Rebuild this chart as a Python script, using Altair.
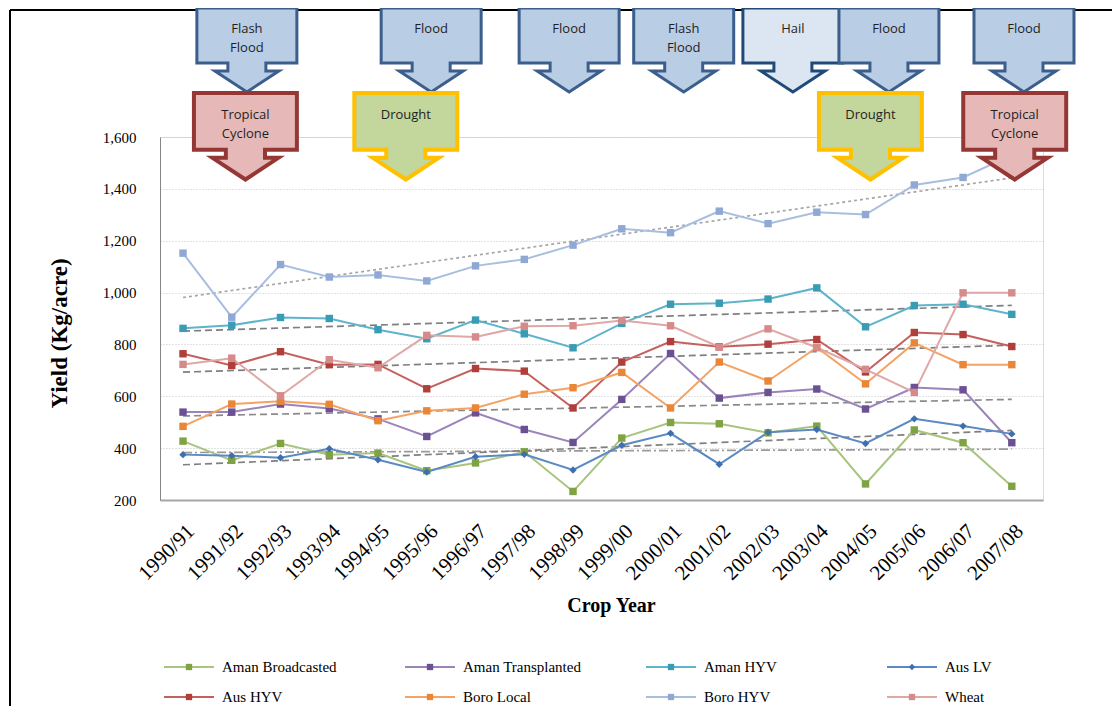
import json
import altair as alt
import pandas as pd

# ---------------- data ----------------
years = ["1990/91", "1991/92", "1992/93", "1993/94", "1994/95", "1995/96",
         "1996/97", "1997/98", "1998/99", "1999/00", "2000/01", "2001/02",
         "2002/03", "2003/04", "2004/05", "2005/06", "2006/07", "2007/08"]

series_names = ["Aman Broadcasted", "Aman Transplanted", "Aman HYV", "Aus LV",
                "Aus HYV", "Boro Local", "Boro HYV", "Wheat"]

aman_broadcasted = [427, 353, 418, 375, 381, 313, 343, 386, 233, 439, 499, 494, 459, 485, 262, 470, 421, 253]
aman_transplanted = [539, 539, 570, 553, 513, 445, 536, 472, 422, 588, 765, 593, 615, 628, 551, 634, 625, 421]
aman_hyv = [862, 874, 904, 900, 857, 822, 894, 841, 787, 881, 955, 959, 975, 1018, 868, 950, 955, 916]
aus_lv = [375, 371, 363, 398, 355, 308, 367, 376, 316, 411, 457, 338, 461, 472, 418, 513, 485, 455]
aus_hyv = [764, 719, 772, 722, 723, 629, 707, 697, 555, 732, 811, 791, 801, 819, 694, 846, 838, 792]
boro_local = [484, 570, 581, 569, 506, 544, 555, 608, 633, 692, 555, 732, 659, 788, 648, 806, 722, 722]
boro_hyv = [1152, 905, 1108, 1060, 1068, 1045, 1103, 1128, 1183, 1246, 1231, 1314, 1266, 1310, 1301, 1415, 1444, 1530]
wheat = [723, 747, 602, 741, 710, 835, 829, 870, 872, 892, 872, 790, 860, 788, 704, 615, 999, 999]

trend_series = ["Boro HYV", "Aman HYV", "Aus HYV", "Aman Transplanted", "Aus LV", "Aman Broadcasted"]

# event callouts: label, kind, position on the crop-year axis, row
event_labels = ["Flash\nFlood", "Flood", "Flood", "Flash\nFlood", "Hail", "Flood", "Flood",
                "Tropical\nCyclone", "Drought", "Drought", "Tropical\nCyclone"]
event_kinds = ["flood", "flood", "flood", "flood", "hail", "flood", "flood",
               "cyclone", "drought", "drought", "cyclone"]
event_pos = [1.31, 5.09, 7.92, 10.27, 12.51, 14.48, 17.25, 1.28, 4.57, 14.10, 17.06]
event_row = [0, 0, 0, 0, 0, 0, 0, 1, 1, 1, 1]

# ---------------- styles ----------------
line_colors = ["#A9C47F", "#9A84BA", "#5DB4CB", "#5B89C4", "#C4605D", "#F4A364", "#A8BEE0", "#DFA7A5"]
marker_colors = ["#7FA343", "#6C5094", "#3A9BB5", "#3F70AE", "#B03F3C", "#EA8638", "#8FA8D4", "#D68A89"]
marker_shapes = ["square", "square", "square", "diamond", "square", "square", "square", "square"]
trend_colors = ["#A6A6A6", "#7F7F7F", "#7F7F7F", "#8A8A8A", "#808080", "#9A9A9A"]
trend_dash = [[3, 3], [7, 4], [7, 4], [7, 4], [7, 4], [9, 3, 2, 3]]

kind_style = {
    "flood": ("#B9CDE5", "#3B5E8C", 3),
    "hail": ("#DCE6F2", "#1F4A7A", 3),
    "cyclone": ("#E6B9B8", "#953735", 4),
    "drought": ("#C3D69B", "#FFC000", 4),
}
callout_path = "M-1,0H1V1.1H0.38V1.26H0.64L0,1.68L-0.64,1.26H-0.38V1.1H-1Z"
row_top = [-129, -44]

# plot geometry (view size in px and scale domains)
VIEW_W, VIEW_H = 883, 363
X_DOM = [-0.472, 17.64]
Y_DOM = [200, 1600]


def px_to_i(px):  # page x -> crop-year index units
    return X_DOM[0] + (px - 160) / VIEW_W * (X_DOM[1] - X_DOM[0])


def py_to_v(py):  # page y -> yield units
    return Y_DOM[1] - (py - 137) / VIEW_H * (Y_DOM[1] - Y_DOM[0])


# ---------------- tables ----------------
all_values = [aman_broadcasted, aman_transplanted, aman_hyv, aus_lv,
              aus_hyv, boro_local, boro_hyv, wheat]
rows = []
for name, vals in zip(series_names, all_values):
    for i, v in enumerate(vals):
        rows.append({"i": i, "year": years[i], "series": name, "value": v})
df = pd.DataFrame(rows)

ev = pd.DataFrame({"label": event_labels, "kind": event_kinds,
                   "i": event_pos, "row": event_row})

leg_rows = []
for k, name in enumerate(series_names):
    c, r = k % 4, k // 4
    x0 = 164 + 241 * c
    y0 = 667 + 30 * r
    leg_rows.append({"series": name, "ls": px_to_i(x0), "le": px_to_i(x0 + 50),
                     "lm": px_to_i(x0 + 25), "lt": px_to_i(x0 + 58), "ly": py_to_v(y0)})
leg = pd.DataFrame(leg_rows)

label_expr = json.dumps(years) + "[datum.value]"

x_scale = alt.Scale(domain=X_DOM, nice=False, zero=False)
y_scale = alt.Scale(domain=Y_DOM, nice=False, zero=False)

x_axis = alt.Axis(values=list(range(len(years))), labelExpr=label_expr, labelAngle=-45,
                  labelFont="Liberation Serif", labelFontSize=21, labelColor="#000000",
                  labelPadding=20, labelOverlap=False, labelFlush=False,
                  ticks=False, grid=False, domainColor="#A6A6A6", domainWidth=2,
                  title="Crop Year", titleFont="Liberation Serif", titleFontSize=20,
                  titleFontWeight="bold", titleColor="#000000", titlePadding=12,
                  titleX=451)
y_axis = alt.Axis(values=[200, 400, 600, 800, 1000, 1200, 1400, 1600],
                  labelExpr="format(datum.value, ',.0f')",
                  labelFont="Liberation Serif", labelFontSize=15, labelColor="#000000",
                  labelPadding=24, ticks=False, grid=True, gridColor="#C4C4C4",
                  gridDash=[1, 2], gridWidth=1, domainColor="#868686", domainWidth=1,
                  title="Yield (Kg/acre)", titleFont="Liberation Serif", titleFontSize=23,
                  titleFontWeight="bold", titleColor="#000000", titlePadding=31,
                  titleY=196)


def X(field):
    return alt.X(field, scale=x_scale, axis=x_axis)


def Y(field):
    return alt.Y(field, scale=y_scale, axis=y_axis)


color_enc = alt.Color("series:N", scale=alt.Scale(domain=series_names, range=line_colors), legend=None)
fill_enc = alt.Fill("series:N", scale=alt.Scale(domain=series_names, range=marker_colors), legend=None)
shape_enc = alt.Shape("series:N", scale=alt.Scale(domain=series_names, range=marker_shapes), legend=None)

base = alt.Chart(df)

lines = base.mark_line(strokeWidth=2).encode(x=X("i:Q"), y=Y("value:Q"), color=color_enc)

points = base.mark_point(filled=True, size=55, opacity=1).encode(
    x=X("i:Q"), y=Y("value:Q"), fill=fill_enc, shape=shape_enc)

trend = base.transform_filter(
    alt.FieldOneOfPredicate(field="series", oneOf=trend_series)
).transform_regression(on="i", regression="value", groupby=["series"]).mark_line(
    strokeWidth=1.7
).encode(
    x=X("i:Q"), y=Y("value:Q"),
    stroke=alt.Stroke("series:N", scale=alt.Scale(domain=trend_series, range=trend_colors),
                      legend=None),
    strokeDash=alt.StrokeDash("series:N", scale=alt.Scale(domain=trend_series, range=trend_dash),
                              legend=None),
)

# legend built from marks
leg_base = alt.Chart(leg)
leg_lines = leg_base.mark_rule(strokeWidth=2).encode(
    x=X("ls:Q"), x2="le:Q", y=Y("ly:Q"), color=color_enc)
leg_marks = leg_base.mark_point(filled=True, size=40, opacity=1).encode(
    x=X("lm:Q"), y=Y("ly:Q"), fill=fill_enc, shape=shape_enc)
leg_text = leg_base.mark_text(align="left", baseline="middle", font="Liberation Serif",
                              fontSize=15, color="#000000").encode(
    x=X("lt:Q"), y=Y("ly:Q"), text="series:N")

frame_df = pd.DataFrame({"k": [0]})
frame_v = alt.Chart(frame_df).mark_rule(color="#000000", strokeWidth=2).encode(
    x=alt.value(-150), y=alt.value(-127), y2=alt.value(575))
frame_h = alt.Chart(frame_df).mark_rule(color="#000000", strokeWidth=2).encode(
    x=alt.value(-150), x2=alt.value(960), y=alt.value(-127))

callouts = []
for idx in range(len(event_labels)):
    fill, stroke, sw = kind_style[event_kinds[idx]]
    one = ev.iloc[[idx]]
    top = row_top[event_row[idx]]
    shape_layer = alt.Chart(one).mark_point(
        shape=callout_path, size=10000 if event_row[idx] == 0 else 10600, filled=True,
        fill=fill, stroke=stroke, strokeWidth=sw, opacity=1, fillOpacity=1, strokeOpacity=1,
        strokeJoin="miter",
    ).encode(x=X("i:Q"), y=alt.value(top))
    text_layer = alt.Chart(one).mark_text(
        font="Open Sans", fontSize=13, lineBreak="\n", lineHeight=19, baseline="top",
        align="center", color="#1F1F1F",
    ).encode(x=X("i:Q"), y=alt.value(top + 15 + event_row[idx]), text="label:N")
    callouts.extend([shape_layer, text_layer])

chart = alt.layer(frame_v, frame_h, trend, lines, points, leg_lines, leg_marks, leg_text,
                  *callouts).properties(
    width=VIEW_W, height=VIEW_H,
    padding={"left": 152, "top": 129, "right": 69, "bottom": 206},
    autosize=alt.AutoSizeParams(type="none"),
).configure_view(strokeWidth=0).configure(background="white")

chart.save("out.html", embed_options={"renderer": "svg", "actions": False})
